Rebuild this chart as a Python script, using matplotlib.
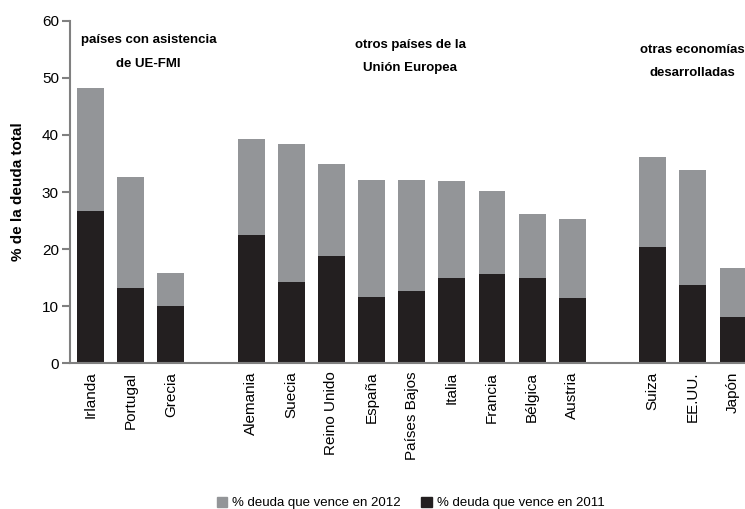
import matplotlib
matplotlib.use("Agg")
import matplotlib.pyplot as plt
from matplotlib.patches import Patch

plt.rcParams['font.family'] = ['Liberation Sans', 'DejaVu Sans']

countries = ["Irlanda", "Portugal", "Grecia",
             "Alemania", "Suecia", "Reino Unido", "España", "Países Bajos",
             "Italia", "Francia", "Bélgica", "Austria",
             "Suiza", "EE.UU.", "Japón"]
positions = [0, 1, 2, 4, 5, 6, 7, 8, 9, 10, 11, 12, 14, 15, 16]
total = [48.3, 32.6, 15.9,
         39.3, 38.4, 34.9, 32.1, 32.1, 31.9, 30.2, 26.1, 25.3,
         36.1, 33.8, 16.7]
due_2011 = [26.7, 13.2, 10.0,
            22.5, 14.2, 18.8, 11.6, 12.7, 15.0, 15.6, 15.0, 11.4,
            20.4, 13.7, 8.1]
due_2012 = [t - a for t, a in zip(total, due_2011)]

gray = "#939598"
black = "#231f20"
spine = "#808080"

fig = plt.figure(figsize=(7.45, 5.09), dpi=100)
ax = fig.add_axes([0.094, 0.2862, 0.906, 0.6731])

w = 0.67
ax.bar(positions, due_2011, width=w, color=black, zorder=2)
ax.bar(positions, due_2012, width=w, bottom=due_2011, color=gray, zorder=2)

ax.set_ylim(0, 60)
ax.set_xlim(-0.51, 16.3)
ax.set_yticks([0, 10, 20, 30, 40, 50, 60])
ax.set_xticks(positions)
ax.set_xticklabels(countries, rotation=90, fontsize=11)
ax.tick_params(axis='y', labelsize=11, direction='out', length=6, width=1.5, color=spine, pad=2)
ax.tick_params(axis='x', length=0, pad=6)
for s in ['top', 'right']:
    ax.spines[s].set_visible(False)
for s in ['left', 'bottom']:
    ax.spines[s].set_color(spine)
    ax.spines[s].set_linewidth(1.5)

ax.set_ylabel("% de la deuda total", fontsize=11, fontweight='bold', labelpad=12)

tk = dict(fontsize=9.5, fontweight='bold', ha='center', va='center', transform=ax.transData)
ax.text(1.45, 56.7, "países con asistencia", **tk)
ax.text(1.45, 52.5, "de UE-FMI", **tk)
ax.text(7.96, 55.7, "otros países de la", **tk)
ax.text(7.96, 51.7, "Unión Europea", **tk)
ax.text(15.0, 54.8, "otras economías", **tk)
ax.text(15.0, 50.8, "desarrolladas", **tk)

handles = [Patch(color=gray, label="% deuda que vence en 2012"),
           Patch(color=black, label="% deuda que vence en 2011")]
fig.legend(handles=handles, loc='center', bbox_to_anchor=(0.551, 0.012), ncol=2,
           frameon=False, fontsize=9.5, handlelength=0.8, handleheight=0.8,
           handletextpad=0.35, columnspacing=1.6)

fig.savefig("out.png", dpi=100)
